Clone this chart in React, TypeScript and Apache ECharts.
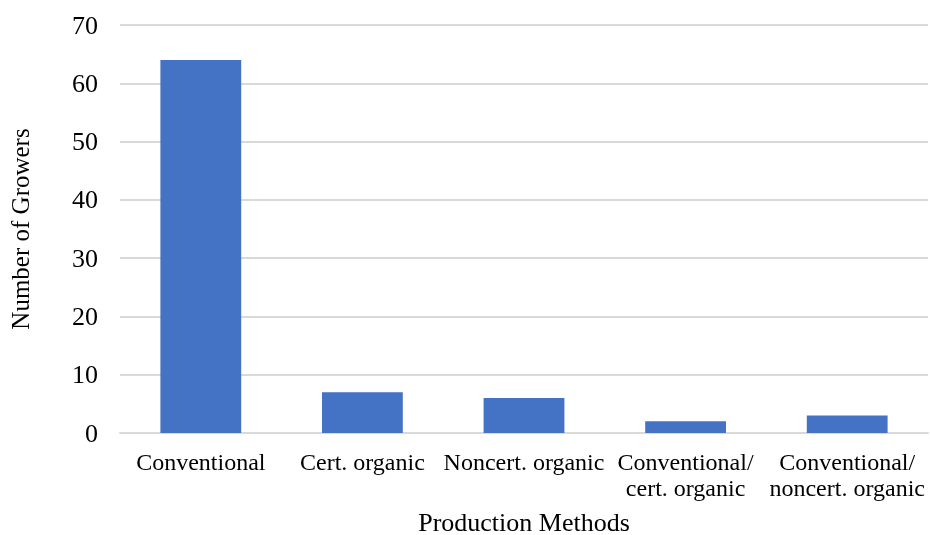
import React, { useEffect, useRef } from "react";
import * as echarts from "echarts";

const categories = [
  "Conventional",
  "Cert. organic",
  "Noncert. organic",
  "Conventional/\ncert. organic",
  "Conventional/\nnoncert. organic",
];
const growers = [64, 7, 6, 2, 3];
const yTicks = { min: 0, max: 70, interval: 10 };

const FONT = "'Liberation Serif', 'Times New Roman', serif";

export default function App() {
  const ref = useRef<HTMLDivElement>(null);

  useEffect(() => {
    if (!ref.current) return;
    const chart = echarts.init(ref.current, undefined, { renderer: "svg" });
    chart.setOption({
      animation: false,
      grid: {
        left: 120,
        right: 2,
        top: 25,
        bottom: 102,
        outerBoundsMode: "none",
      },
      xAxis: {
        type: "category",
        data: categories,
        name: "Production Methods",
        nameLocation: "middle",
        nameGap: 76,
        nameTextStyle: {
          fontFamily: FONT,
          fontSize: 26,
          color: "#000",
          lineHeight: 26,
        },
        axisTick: { show: false },
        axisLine: { lineStyle: { color: "#d9d9d9", width: 2 } },
        axisLabel: {
          interval: 0,
          margin: 16,
          fontFamily: FONT,
          fontSize: 24,
          color: "#000",
          lineHeight: 26,
        },
      },
      yAxis: {
        type: "value",
        min: yTicks.min,
        max: yTicks.max,
        interval: yTicks.interval,
        name: "Number of Growers",
        nameLocation: "middle",
        nameGap: 87,
        nameTextStyle: { fontFamily: FONT, fontSize: 25, color: "#000" },
        axisLabel: { margin: 22, fontFamily: FONT, fontSize: 26, color: "#000" },
        splitLine: { lineStyle: { color: "#d9d9d9", width: 2 } },
        axisLine: { show: false },
        axisTick: { show: false },
      },
      series: [
        {
          type: "bar",
          data: growers,
          barWidth: "50%",
          itemStyle: { color: "#4472C4" },
        },
      ],
    });
    return () => chart.dispose();
  }, []);

  return (
    <div
      ref={ref}
      style={{ position: "fixed", left: 0, top: 0, width: 930, height: 535 }}
    />
  );
}
